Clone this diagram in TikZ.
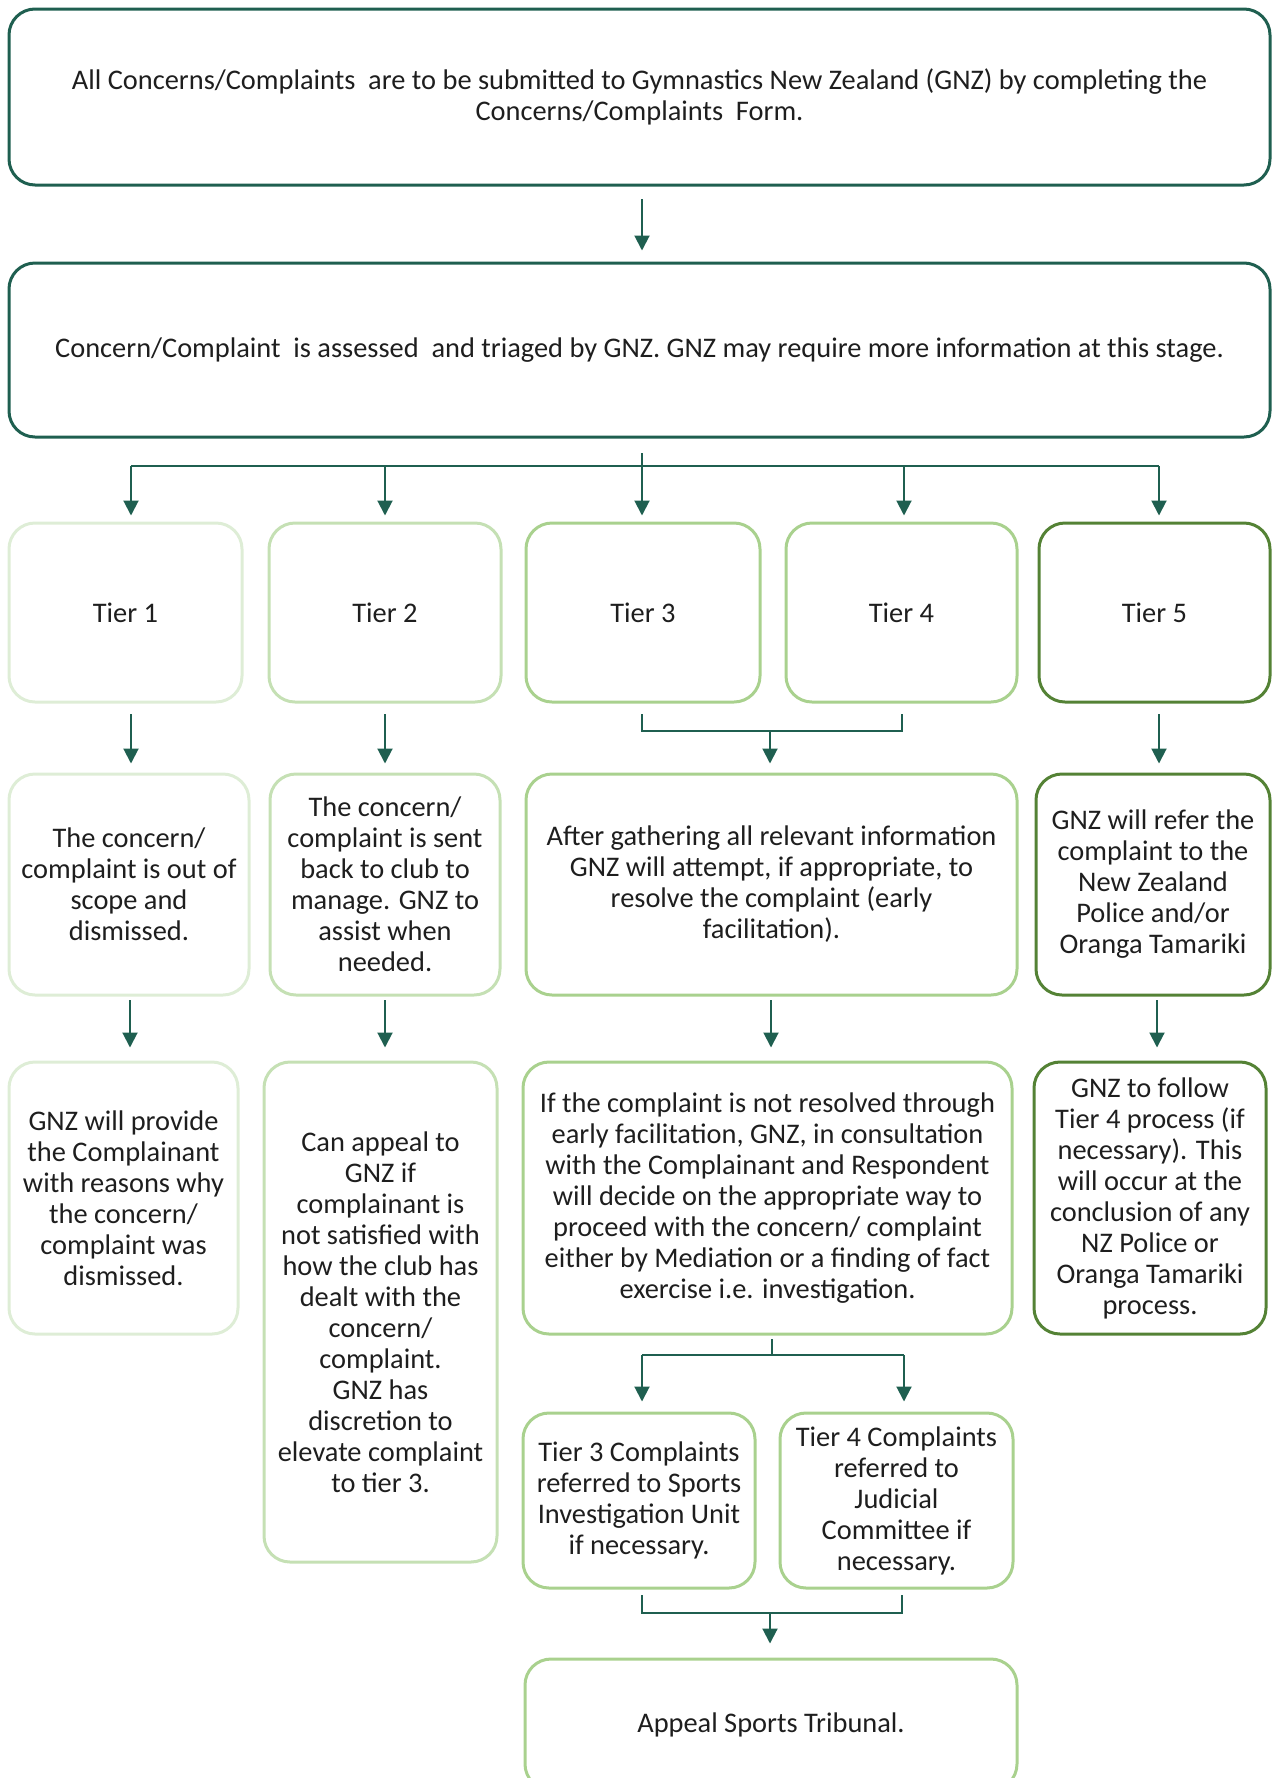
\documentclass[tikz,border=0pt]{standalone}
\usepackage{fontspec}
\setmainfont{Carlito}
\usetikzlibrary{arrows.meta}
\definecolor{dk}{RGB}{31,95,80}
\definecolor{gA}{RGB}{222,237,214}
\definecolor{gB}{RGB}{197,224,180}
\definecolor{gC}{RGB}{169,209,142}
\definecolor{gD}{RGB}{84,130,53}
\definecolor{txt}{RGB}{30,30,30}
\tikzset{
  box/.style={draw, rounded corners=26pt, line width=3pt, align=center, inner sep=0pt,
    text=txt, font=\fontsize{28.4}{31}\selectfont},
  ln/.style={draw=dk, line width=2pt},
  arr/.style={ln, -{Triangle[width=15pt,length=15pt]}},
}
\begin{document}
\begin{tikzpicture}[x=1pt,y=-1pt]
\useasboundingbox (0,0) rectangle (1272,1778);
\clip (0,0) rectangle (1272,1778);

% top boxes
\node[box, draw=dk, minimum width=1261pt, minimum height=176pt] (top) at (639.5,97)
  {All Concerns/Complaints\ \ are to be submitted to Gymnastics New Zealand (GNZ) by completing the\\Concerns/Complaints\ \ Form.};
\node[box, draw=dk, minimum width=1261pt, minimum height=174pt] (box2) at (639.5,350)
  {Concern/Complaint\ \ is assessed\ \ and triaged by GNZ. GNZ may require more information at this stage.};

% tier boxes
\node[box, draw=gA, minimum width=233pt, minimum height=179pt] (t1) at (125.5,612.5) {Tier 1};
\node[box, draw=gB, minimum width=232pt, minimum height=179pt] (t2) at (385,612.5) {Tier 2};
\node[box, draw=gC, minimum width=234pt, minimum height=179pt] (t3) at (643,612.5) {Tier 3};
\node[box, draw=gC, minimum width=231pt, minimum height=179pt] (t4) at (901.5,612.5) {Tier 4};
\node[box, draw=gD, minimum width=231pt, minimum height=179pt] (t5) at (1154.5,612.5) {Tier 5};

% row 3
\node[box, draw=gA, minimum width=240pt, minimum height=221pt] (r3a) at (129,884.5)
  {The concern/\\complaint is out of\\scope and\\dismissed.};
\node[box, draw=gB, minimum width=230pt, minimum height=221pt] (r3b) at (385,884.5)
  {The concern/\\complaint is sent\\back to club to\\manage. GNZ to\\assist when\\needed.};
\node[box, draw=gC, minimum width=491pt, minimum height=221pt] (r3c) at (771.5,884.5)
  {After gathering all relevant information\\GNZ will attempt, if appropriate, to\\resolve the complaint (early\\facilitation).};
\node[box, draw=gD, minimum width=234pt, minimum height=221pt] (r3d) at (1153,884.5)
  {GNZ will refer the\\complaint to the\\New Zealand\\Police and/or\\Oranga Tamariki};

% row 4
\node[box, draw=gA, minimum width=229pt, minimum height=272pt] (r4a) at (123.5,1198)
  {GNZ will provide\\the Complainant\\with reasons why\\the concern/\\complaint was\\dismissed.};
\node[box, draw=gB, minimum width=233pt, minimum height=500pt] (r4b) at (380.5,1312)
  {Can appeal to\\GNZ if\\complainant is\\not satisfied with\\how the club has\\dealt with the\\concern/\\complaint.\\GNZ has\\discretion to\\elevate complaint\\to tier 3.};
\node[box, draw=gC, minimum width=489pt, minimum height=272pt] (r4c) at (767.5,1198)
  {If the complaint is not resolved through\\early facilitation, GNZ, in consultation\\with the Complainant and Respondent\\will decide on the appropriate way to\\proceed with the concern/ complaint\\either by Mediation or a finding of fact\\exercise i.e. investigation.};
\node[box, draw=gD, minimum width=232pt, minimum height=272pt] (r4d) at (1150,1198)
  {GNZ to follow\\Tier 4 process (if\\necessary). This\\will occur at the\\conclusion of any\\NZ Police or\\Oranga Tamariki\\process.};

% row 5
\node[box, draw=gC, minimum width=232pt, minimum height=175pt] (r5e) at (639,1500.5)
  {Tier 3 Complaints\\referred to Sports\\Investigation Unit\\if necessary.};
\node[box, draw=gC, minimum width=233pt, minimum height=175pt] (r5f) at (896.5,1500.5)
  {Tier 4 Complaints\\referred to\\Judicial\\Committee if\\necessary.};
\node[box, draw=gC, minimum width=492pt, minimum height=131pt] (app) at (771,1724.5)
  {Appeal Sports Tribunal.};

% connectors: top -> box2
\coordinate (c0) at (642,199);
\draw[arr, shorten >=11pt] (c0) -- (c0 |- box2.north);

% box2 -> tiers
\coordinate (b0) at (642,453);
\coordinate (b1) at (131,466);
\coordinate (b2) at (385,466);
\coordinate (b3) at (642,466);
\coordinate (b4) at (904,466);
\coordinate (b5) at (1159,466);
\draw[ln] (b0) -- (b3);
\draw[ln] (b1) -- (b5);
\draw[arr, shorten >=6pt] (b1) -- (b1 |- t1.north);
\draw[arr, shorten >=6pt] (b2) -- (b2 |- t2.north);
\draw[arr, shorten >=6pt] (b0) -- (b3 |- t3.north);
\draw[arr, shorten >=6pt] (b4) -- (b4 |- t4.north);
\draw[arr, shorten >=6pt] (b5) -- (b5 |- t5.north);

% tiers -> row 3
\coordinate (d1) at (131,714);
\coordinate (d2) at (385,714);
\coordinate (d3) at (642,714);
\coordinate (d4) at (902,714);
\coordinate (d5) at (1159,714);
\coordinate (j34) at (770,731);
\draw[arr, shorten >=9pt] (d1) -- (d1 |- r3a.north);
\draw[arr, shorten >=9pt] (d2) -- (d2 |- r3b.north);
\draw[arr, shorten >=9pt] (d5) -- (d5 |- r3d.north);
\draw[ln] (d3) |- (j34) -| (d4);
\draw[arr, shorten >=9pt] (j34) -- (j34 |- r3c.north);

% row 3 -> row 4
\coordinate (e1) at (130,1000);
\coordinate (e2) at (385,1000);
\coordinate (e3) at (771,1000);
\coordinate (e4) at (1157,1000);
\draw[arr, shorten >=13pt] (e1) -- (e1 |- r4a.north);
\draw[arr, shorten >=13pt] (e2) -- (e2 |- r4b.north);
\draw[arr, shorten >=13pt] (e3) -- (e3 |- r4c.north);
\draw[arr, shorten >=13pt] (e4) -- (e4 |- r4d.north);

% row 4 -> row 5
\coordinate (f0) at (772,1339);
\coordinate (f1) at (772,1355);
\coordinate (f2) at (642,1355);
\coordinate (f3) at (904,1355);
\draw[ln] (f0) -- (f1);
\draw[ln] (f2) -- (f3);
\draw[arr, shorten >=10pt] (f2) -- (f2 |- r5e.north);
\draw[arr, shorten >=10pt] (f3) -- (f3 |- r5f.north);

% row 5 -> appeal
\coordinate (g1) at (642,1595);
\coordinate (g2) at (902,1595);
\coordinate (gj) at (770,1613);
\draw[ln] (g1) |- (gj) -| (g2);
\draw[arr, shorten >=14pt] (gj) -- (gj |- app.north);
\end{tikzpicture}
\end{document}
